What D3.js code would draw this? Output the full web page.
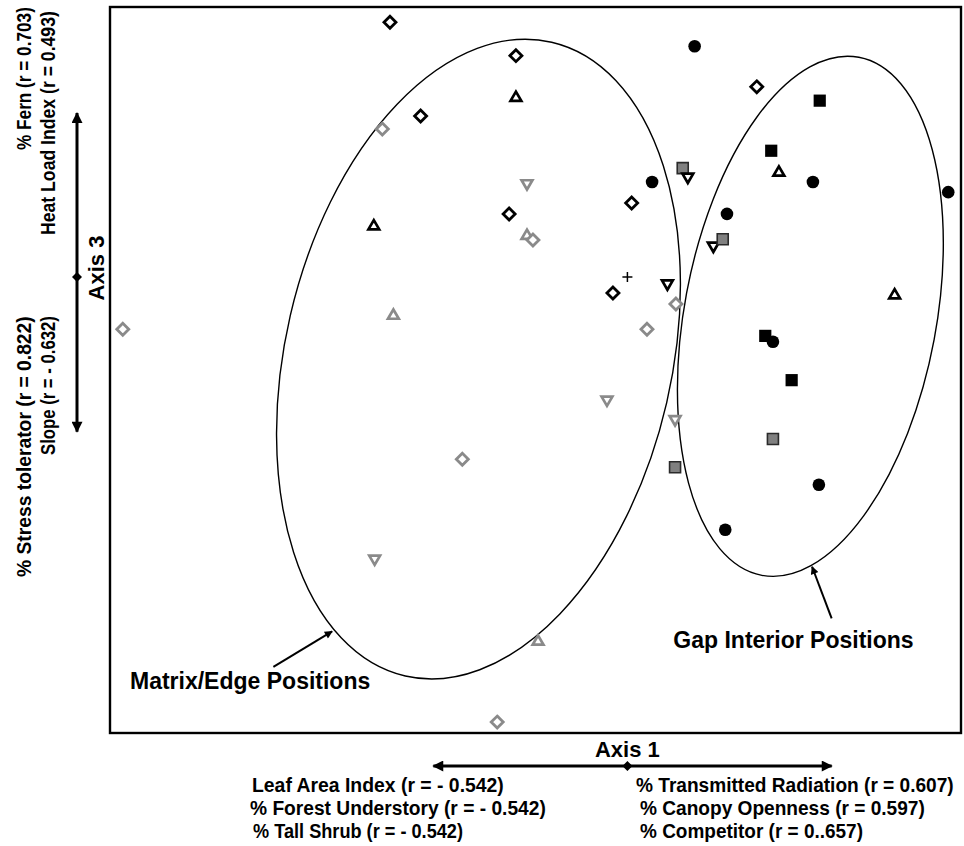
<!DOCTYPE html>
<html>
<head>
<meta charset="utf-8">
<script src="https://cdn.jsdelivr.net/npm/d3@7"></script>
<style>
  body { margin: 0; background: #fff; }
  svg { display: block; }
  text { font-family: "Liberation Sans", Arial, Helvetica, sans-serif; font-weight: bold; fill: #000; }
</style>
</head>
<body>
<svg id="chart" width="964" height="846"></svg>
<script>
// NMS ordination of understory plots: site scores on Axis 1 and Axis 3
const siteGroup = [
  "blackDiamond", "blackDiamond", "blackTriUp", "blackDiamond", "greyDiamond",
  "blackCircle", "greySquare", "blackTriDown", "blackCircle", "greyTriDown",
  "blackDiamond", "blackDiamond", "blackTriUp", "greyTriUp", "greyDiamond",
  "blackCircle", "blackTriDown", "greySquare", "blackTriDown", "blackDiamond",
  "greyDiamond", "greyTriUp", "blackSquare", "blackDiamond", "blackSquare",
  "blackTriUp", "blackCircle", "blackCircle", "blackTriUp", "greyDiamond",
  "blackSquare", "blackCircle", "blackSquare", "greyTriDown", "greyTriDown",
  "greySquare", "greySquare", "blackCircle", "blackCircle", "greyDiamond",
  "greyDiamond", "greyTriDown", "greyTriUp", "greyDiamond", "centroid"
];
const axis1Score = [
  32.9, 47.7, 47.7, 36.5, 32.0,
  68.7, 67.3, 67.9, 63.7, 49.0,
  61.3, 46.9, 31.0, 49.0, 49.7,
  72.5, 70.9, 72.0, 65.5, 59.1,
  66.5, 33.3, 83.4, 76.0, 77.7,
  78.6, 82.6, 98.5, 92.2, 63.1,
  77.0, 77.9, 80.1, 58.4, 66.4,
  77.9, 66.4, 83.3, 72.3, 1.5,
  41.4, 31.1, 50.3, 45.5, 60.8
];
const axis3Score = [
  97.9, 93.3, 87.7, 85.0, 83.2,
  94.6, 77.8, 76.4, 75.9, 75.5,
  73.0, 71.5, 70.0, 68.7, 67.9,
  71.5, 66.9, 68.0, 61.7, 60.6,
  59.1, 57.7, 87.1, 89.0, 80.2,
  77.4, 75.9, 74.5, 60.5, 55.6,
  54.7, 53.9, 48.6, 45.7, 43.0,
  40.5, 36.6, 34.2, 28.0, 55.6,
  37.7, 23.8, 12.8, 1.5, 62.8
];

// Group envelopes: centre (Axis 1, Axis 3), semi-axes in axis units, tilt in degrees
const envelopeName = ["Matrix/Edge Positions", "Gap Interior Positions"];
const envelopeCentre = [[43.3, 51.5], [82.3, 57.4]];
const envelopeRadius = [[22.7, 44.8], [14.8, 36.3]];
const envelopeTilt = [13, 10.6];
// Pointer arrows for envelope labels: [from, to] in axis units
const envelopePointer = [[[19.2, 9.1], [26.1, 14.0]], [[84.8, 15.8], [82.5, 22.9]]];
const envelopeLabelAt = [[2.35, 6.1], [66.2, 11.7]];

// Environmental / trait correlations with each axis
const axis1Neg = ["Leaf Area Index (r = - 0.542)", "% Forest Understory (r = - 0.542)", "% Tall Shrub (r = - 0.542)"];
const axis1Pos = ["% Transmitted Radiation (r = 0.607)", "% Canopy Openness (r = 0.597)", "% Competitor (r = 0..657)"];
const axis3Pos = ["% Fern (r = 0.703)", "Heat Load Index (r = 0.493)"];
const axis3Neg = ["% Stress tolerator (r = 0.822)", "Slope (r = - 0.632)"];
// Extent of the correlation vectors through the centroid
const axis1Vector = [38.0, 84.8];
const axis3Vector = [41.5, 85.4];

const svg = d3.select("#chart");
const plot = { left: 110, top: 7, right: 961, bottom: 733 };

const x = d3.scaleLinear().domain([0, 100]).range([plot.left, plot.right]);
const y = d3.scaleLinear().domain([0, 100]).range([plot.bottom, plot.top]);

// Marker shapes
const shapes = {
  diamond: { draw(c, r) { c.moveTo(0, -r); c.lineTo(r, 0); c.lineTo(0, r); c.lineTo(-r, 0); c.closePath(); } },
  triUp: { draw(c, r) { c.moveTo(0, -r * 0.86); c.lineTo(r, r * 0.86); c.lineTo(-r, r * 0.86); c.closePath(); } },
  triDown: { draw(c, r) { c.moveTo(0, r * 0.86); c.lineTo(r, -r * 0.86); c.lineTo(-r, -r * 0.86); c.closePath(); } },
  square: { draw(c, r) { c.rect(-r, -r, 2 * r, 2 * r); } },
  circle: { draw(c, r) { c.moveTo(r, 0); c.arc(0, 0, r, 0, 2 * Math.PI); } },
  plus: { draw(c, r) { c.moveTo(-r, 0); c.lineTo(r, 0); c.moveTo(0, -r); c.lineTo(0, r); } }
};
const grey = "#8a8a8a";
const style = {
  blackDiamond: { shape: "diamond", r: 6.0, fill: "#fff", stroke: "#000", sw: 2.8 },
  greyDiamond:  { shape: "diamond", r: 6.0, fill: "#fff", stroke: grey, sw: 2.8 },
  blackTriUp:   { shape: "triUp", r: 5.4, fill: "#fff", stroke: "#000", sw: 2.7 },
  greyTriUp:    { shape: "triUp", r: 5.4, fill: "#fff", stroke: grey, sw: 2.7 },
  blackTriDown: { shape: "triDown", r: 5.4, fill: "#fff", stroke: "#000", sw: 2.7 },
  greyTriDown:  { shape: "triDown", r: 5.4, fill: "#fff", stroke: grey, sw: 2.7 },
  blackCircle:  { shape: "circle", r: 6.3, fill: "#000", stroke: "none", sw: 0 },
  blackSquare:  { shape: "square", r: 6.1, fill: "#000", stroke: "none", sw: 0 },
  greySquare:   { shape: "square", r: 5.5, fill: "#808080", stroke: "#2a2a2a", sw: 1.6 },
  centroid:     { shape: "plus", r: 5, fill: "none", stroke: "#000", sw: 1.5 }
};

const sites = siteGroup.map((g, i) => ({ group: g, a1: axis1Score[i], a3: axis3Score[i] }));

// Arrowhead markers
const defs = svg.append("defs");
defs.append("marker")
  .attr("id", "head").attr("viewBox", "0 0 10 10").attr("refX", 9).attr("refY", 5)
  .attr("markerWidth", 10).attr("markerHeight", 8).attr("markerUnits", "userSpaceOnUse")
  .attr("orient", "auto-start-reverse")
  .append("path").attr("d", "M0,0L10,5L0,10Z").attr("fill", "#000");
defs.append("marker")
  .attr("id", "bighead").attr("viewBox", "0 0 10 10").attr("refX", 9).attr("refY", 5)
  .attr("markerWidth", 13).attr("markerHeight", 11).attr("markerUnits", "userSpaceOnUse")
  .attr("orient", "auto-start-reverse")
  .append("path").attr("d", "M0,0L10,5L0,10Z").attr("fill", "#000");

// Envelopes
envelopeName.forEach((name, i) => {
  const [cx, cy] = envelopeCentre[i];
  const rx = x(cx + envelopeRadius[i][0]) - x(cx);
  const ry = y(cy) - y(cy + envelopeRadius[i][1]);
  svg.append("ellipse")
    .attr("transform", `translate(${x(cx)},${y(cy)}) rotate(${envelopeTilt[i]})`)
    .attr("rx", rx).attr("ry", ry)
    .attr("fill", "none").attr("stroke", "#000").attr("stroke-width", 1.4);
});

// Sites
svg.append("g").selectAll("path").data(sites).join("path")
  .attr("transform", d => `translate(${x(d.a1)},${y(d.a3)})`)
  .attr("d", d => d3.symbol().type(shapes[style[d.group].shape]).size(style[d.group].r)())
  .attr("fill", d => style[d.group].fill)
  .attr("stroke", d => style[d.group].stroke)
  .attr("stroke-width", d => style[d.group].sw)
  .attr("stroke-linejoin", "miter");

// Envelope labels and pointers
envelopeName.forEach((name, i) => {
  const [p0, p1] = envelopePointer[i];
  svg.append("line")
    .attr("x1", x(p0[0])).attr("y1", y(p0[1])).attr("x2", x(p1[0])).attr("y2", y(p1[1]))
    .attr("stroke", "#000").attr("stroke-width", 2).attr("marker-end", "url(#head)");
  svg.append("text")
    .attr("x", x(envelopeLabelAt[i][0])).attr("y", y(envelopeLabelAt[i][1]))
    .attr("font-size", 23).text(name);
});

// Plot frame
svg.append("rect")
  .attr("x", plot.left).attr("y", plot.top)
  .attr("width", plot.right - plot.left).attr("height", plot.bottom - plot.top)
  .attr("fill", "none").attr("stroke", "#000").attr("stroke-width", 2.4);

// Axis 1 correlation vector
const centroid = sites.find(d => d.group === "centroid");
const ax1Y = 766;
[axis1Vector[0], axis1Vector[1]].forEach(end => svg.append("line")
  .attr("x1", x(centroid.a1)).attr("x2", x(end)).attr("y1", ax1Y).attr("y2", ax1Y)
  .attr("stroke", "#000").attr("stroke-width", 3).attr("marker-end", "url(#bighead)"));
svg.append("path")
  .attr("transform", `translate(${x(centroid.a1)},${ax1Y})`)
  .attr("d", d3.symbol().type(shapes.diamond).size(5)()).attr("fill", "#000");
svg.append("text").attr("x", x(centroid.a1)).attr("y", 757)
  .attr("text-anchor", "middle").attr("font-size", 22).text("Axis 1");

// Axis 3 correlation vector
const ax3X = 77;
[axis3Vector[0], axis3Vector[1]].forEach(end => svg.append("line")
  .attr("x1", ax3X).attr("x2", ax3X).attr("y1", y(centroid.a3)).attr("y2", y(end))
  .attr("stroke", "#000").attr("stroke-width", 3).attr("marker-end", "url(#bighead)"));
svg.append("path")
  .attr("transform", `translate(${ax3X},${y(centroid.a3)})`)
  .attr("d", d3.symbol().type(shapes.diamond).size(5)()).attr("fill", "#000");
svg.append("text").attr("transform", `translate(104,268) rotate(-90)`)
  .attr("text-anchor", "middle").attr("font-size", 22).text("Axis 3");

// Condensed label: drawn at full height, squeezed horizontally to the given run length
function condensed(parent, txt, size, run) {
  const g = parent.append("g");
  const t = g.append("text").attr("font-size", size).text(txt);
  const natural = t.node().getComputedTextLength();
  t.attr("transform", `scale(${run / natural},1)`);
  return g;
}

// Axis 1 correlate labels
const rowY = [792, 815, 838];
const negX = [252, 250, 253];
const negLen = [252, 296, 210];
const posX = [636, 640, 640];
const posLen = [318, 285, 223];
axis1Neg.forEach((t, i) => condensed(svg, t, 20.5, negLen[i])
  .attr("transform", `translate(${negX[i]},${rowY[i]})`));
axis1Pos.forEach((t, i) => condensed(svg, t, 20.5, posLen[i])
  .attr("transform", `translate(${posX[i]},${rowY[i]})`));

// Axis 3 correlate labels (rotated)
const colX = [31, 55];
const posTop = [7, 11];
const posSpan = [143, 224];
const negSpan = [261, 139];
axis3Pos.forEach((t, i) => condensed(svg, t, 20, posSpan[i])
  .attr("transform", `translate(${colX[i]},${posTop[i] + posSpan[i]}) rotate(-90)`));
axis3Neg.forEach((t, i) => condensed(svg, t, 20, negSpan[i])
  .attr("transform", `translate(${colX[i]},${316 + negSpan[i]}) rotate(-90)`));
</script>
</body>
</html>
